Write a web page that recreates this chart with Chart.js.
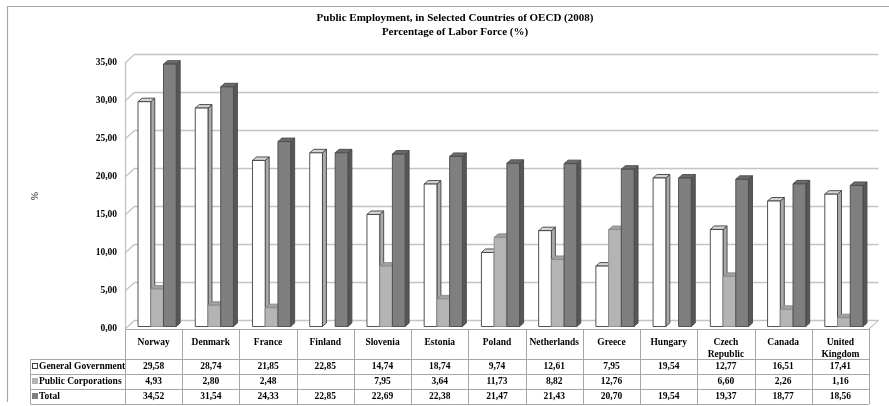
<!DOCTYPE html>
<html><head><meta charset="utf-8">
<script src="https://cdn.jsdelivr.net/npm/chart.js@4/dist/chart.umd.min.js"></script>
<style>html,body{margin:0;padding:0;background:#fff;}</style>
</head><body>
<canvas id="c" width="889" height="406"></canvas>
<script>
const titleLines = ['Public Employment, in Selected Countries of OECD (2008)', 'Percentage of Labor Force (%)'];
const yAxisTitle = '%';
const categories = [['Norway'], ['Denmark'], ['France'], ['Finland'], ['Slovenia'], ['Estonia'], ['Poland'], ['Netherlands'], ['Greece'], ['Hungary'], ['Czech', 'Republic'], ['Canada'], ['United', 'Kingdom']];
const seriesNames = ['General Government', 'Public Corporations', 'Total'];
const generalGovernment = [29.58, 28.74, 21.85, 22.85, 14.74, 18.74, 9.74, 12.61, 7.95, 19.54, 12.77, 16.51, 17.41];
const publicCorporations = [4.93, 2.80, 2.48, null, 7.95, 3.64, 11.73, 8.82, 12.76, null, 6.60, 2.26, 1.16];
const totalValues = [34.52, 31.54, 24.33, 22.85, 22.69, 22.38, 21.47, 21.43, 20.70, 19.54, 19.37, 18.77, 18.56];
const yTickValues = [0, 5, 10, 15, 20, 25, 30, 35];

const FONT = "'Liberation Serif', 'Times New Roman', serif";
const fmt = v => (v === null || v === undefined) ? '' : v.toFixed(2).replace('.', ',');

const faces = [
  {front: '#ffffff', side: '#a9a9a9', top: '#d4d4d4', stroke: '#404040'},
  {front: '#b4b4b4', side: '#8e8e8e', top: '#a2a2a2', stroke: '#8a8a8a'},
  {front: '#7f7f7f', side: '#575757', top: '#6b6b6b', stroke: '#4a4a4a'}
];
const WALL = {dx: 9.5, dy: -8.5};
const BAR3D = {shiftX: 3.5, shiftY: -2.5, depthX: 4, depthY: -3.5};

const threeD = {
  id: 'threeD',
  beforeDraw(chart) {
    const ctx = chart.ctx;
    ctx.save();
    ctx.strokeStyle = '#a8a8a8';
    ctx.lineWidth = 1.2;
    ctx.beginPath();
    ctx.moveTo(7.5, 402); ctx.lineTo(7.5, 6.5); ctx.lineTo(889, 6.5);
    ctx.stroke();
    ctx.restore();
  },
  beforeDatasetsDraw(chart) {
    const ctx = chart.ctx;
    const a = chart.chartArea;
    const ys = chart.scales.y;
    ctx.save();
    ctx.strokeStyle = '#c4c4c4';
    ctx.lineWidth = 1.3;
    yTickValues.forEach(v => {
      const yf = ys.getPixelForValue(v);
      ctx.beginPath();
      ctx.moveTo(a.left, yf);
      ctx.lineTo(a.left + WALL.dx, yf + WALL.dy);
      ctx.lineTo(a.right + WALL.dx, yf + WALL.dy);
      ctx.stroke();
    });
    ctx.beginPath();
    ctx.moveTo(a.left + 0.5, ys.getPixelForValue(yTickValues[yTickValues.length - 1]));
    ctx.lineTo(a.left + 0.5, a.bottom);
    ctx.stroke();
    ctx.strokeStyle = '#a8a8a8';
    ctx.lineWidth = 1;
    ctx.beginPath();
    ctx.moveTo(a.right, a.bottom);
    ctx.lineTo(a.right + WALL.dx, a.bottom + WALL.dy);
    ctx.stroke();

    const metas = chart.data.datasets.map((d, i) => chart.getDatasetMeta(i));
    const n = chart.data.labels.length;
    ctx.lineWidth = 0.9;
    for (let i = 0; i < n; i++) {
      metas.forEach((meta, d) => {
        const raw = chart.data.datasets[d].data[i];
        if (raw === null || raw === undefined) return;
        const el = meta.data[i];
        const p = el.getProps(['x', 'y', 'base', 'width'], true);
        const L = p.x - p.width / 2 + BAR3D.shiftX;
        const R = p.x + p.width / 2 + BAR3D.shiftX;
        const T = p.y + BAR3D.shiftY;
        const B = p.base + BAR3D.shiftY;
        const ddx = BAR3D.depthX, ddy = BAR3D.depthY;
        const f = faces[d];
        ctx.strokeStyle = f.stroke;
        ctx.beginPath();
        ctx.moveTo(R, T); ctx.lineTo(R + ddx, T + ddy); ctx.lineTo(R + ddx, B + ddy); ctx.lineTo(R, B); ctx.closePath();
        ctx.fillStyle = f.side; ctx.fill(); ctx.stroke();
        ctx.beginPath();
        ctx.moveTo(L, T); ctx.lineTo(L + ddx, T + ddy); ctx.lineTo(R + ddx, T + ddy); ctx.lineTo(R, T); ctx.closePath();
        ctx.fillStyle = f.top; ctx.fill(); ctx.stroke();
        ctx.beginPath();
        ctx.rect(L, T, R - L, B - T);
        ctx.fillStyle = f.front; ctx.fill(); ctx.stroke();
      });
    }
    ctx.restore();
    return false;
  },
  afterDraw(chart) {
    const ctx = chart.ctx;
    const a = chart.chartArea;
    const xs = chart.scales.x;
    const n = chart.data.labels.length;
    const colW = (a.right - a.left) / n;
    const headerTop = a.bottom;
    const rowTop = headerTop + 30;
    const rowH = 15;
    const legendLeft = 30.5;
    ctx.save();
    ctx.strokeStyle = '#a6a6a6';
    ctx.lineWidth = 1;
    ctx.beginPath();
    ctx.moveTo(a.left, Math.round(headerTop) + 0.5); ctx.lineTo(a.right, Math.round(headerTop) + 0.5);
    for (let r = 0; r <= 3; r++) {
      const y = Math.round(rowTop + r * rowH) + 0.5;
      ctx.moveTo(legendLeft, y); ctx.lineTo(a.right, y);
    }
    for (let k = 0; k <= n; k++) {
      const x = Math.round(a.left + k * colW) + 0.5;
      ctx.moveTo(x, headerTop); ctx.lineTo(x, rowTop + 3 * rowH);
    }
    ctx.moveTo(legendLeft, rowTop); ctx.lineTo(legendLeft, rowTop + 3 * rowH);
    ctx.stroke();

    const seriesData = chart.data.datasets.map(d => d.data);
    ctx.fillStyle = '#000';
    ctx.font = "bold 9.5px " + FONT;
    ctx.textBaseline = 'middle';
    seriesData.forEach((vals, r) => {
      const yc = rowTop + r * rowH + rowH / 2 + 0.5;
      ctx.textAlign = 'center';
      ctx.fillStyle = '#000';
      vals.forEach((v, i) => {
        ctx.fillText(fmt(v), xs.getPixelForValue(i), yc);
      });
      const f = faces[r];
      ctx.fillStyle = r === 0 ? '#ffffff' : f.front;
      ctx.fillRect(32.5, yc - 3.5, 5, 5);
      ctx.strokeStyle = r === 0 ? '#404040' : f.front;
      ctx.strokeRect(32.5, yc - 3.5, 5, 5);
      ctx.fillStyle = '#000';
      ctx.textAlign = 'left';
      ctx.fillText(chart.data.datasets[r].label, 39, yc);
    });
    ctx.restore();
  }
};

const chart = new Chart(document.getElementById('c'), {
  type: 'bar',
  data: {
    labels: categories,
    datasets: [
      {label: seriesNames[0], data: generalGovernment, backgroundColor: faces[0].front, borderColor: faces[0].stroke},
      {label: seriesNames[1], data: publicCorporations, backgroundColor: faces[1].front, borderColor: faces[1].stroke},
      {label: seriesNames[2], data: totalValues, backgroundColor: faces[2].front, borderColor: faces[2].stroke}
    ]
  },
  options: {
    responsive: false,
    devicePixelRatio: 1,
    animation: false,
    layout: {padding: {left: 41, right: 20, top: 7, bottom: 5}},
    datasets: {bar: {categoryPercentage: 0.667, barPercentage: 1.0}},
    plugins: {
      legend: {display: false},
      tooltip: {enabled: false},
      title: {
        display: true,
        text: titleLines,
        color: '#000',
        font: {family: FONT, size: 11, weight: 'bold', lineHeight: 14 / 11},
        padding: {top: 4, bottom: 24}
      }
    },
    scales: {
      x: {
        grid: {display: false, drawTicks: false},
        border: {display: false},
        ticks: {
          color: '#000',
          font: {family: FONT, size: 9.5, weight: 'bold', lineHeight: 12 / 9.5},
          padding: 8,
          maxRotation: 0,
          autoSkip: false
        },
        afterFit(scale) { scale.height = 72; }
      },
      y: {
        min: 0,
        max: 35,
        grid: {display: false, drawTicks: false},
        border: {display: false},
        ticks: {
          stepSize: 5,
          color: '#000',
          font: {family: FONT, size: 9.5, weight: 'bold'},
          padding: 8,
          callback: v => fmt(v)
        },
        title: {
          display: true,
          text: yAxisTitle,
          color: '#000',
          font: {family: FONT, size: 10},
          padding: {top: -12, bottom: 0}
        },
        afterFit(scale) { scale.width = 84; }
      }
    }
  },
  plugins: [threeD]
});
</script>
</body></html>
